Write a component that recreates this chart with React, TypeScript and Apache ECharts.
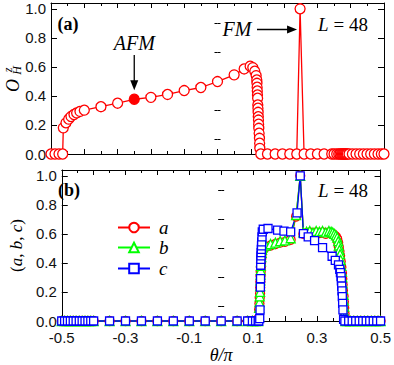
import React, { useEffect, useRef } from 'react';
import * as echarts from 'echarts';

// ---------- Data ----------
// Panel (a): O_H^z vs theta/pi
const thetaA = [
  -0.5, -0.488, -0.476, -0.465, -0.463, -0.455, -0.447, -0.44, -0.431, -0.423, -0.413, -0.4,
  -0.35, -0.3, -0.25, -0.2, -0.15, -0.1, -0.05, 0.0, 0.05, 0.08, 0.098, 0.106, 0.112, 0.116,
  0.118, 0.1185, 0.119, 0.1195, 0.12, 0.1205, 0.121, 0.1215, 0.122, 0.1225, 0.123, 0.1235, 0.124,
  0.125, 0.126, 0.1265, 0.127, 0.13, 0.15, 0.173, 0.195, 0.217, 0.238, 0.248, 0.26, 0.28, 0.3,
  0.32, 0.343, 0.35, 0.358, 0.364, 0.368, 0.372, 0.375, 0.378, 0.381, 0.384, 0.387, 0.39, 0.395,
  0.405, 0.416, 0.427, 0.438, 0.449, 0.46, 0.471, 0.482, 0.492, 0.5,
];
const oHz = [
  0, 0, 0, 0, 0.18, 0.215, 0.24, 0.258, 0.272, 0.283, 0.293, 0.302,
  0.326, 0.35, 0.377, 0.39, 0.41, 0.437, 0.458, 0.499, 0.545, 0.586, 0.605, 0.595, 0.57, 0.54,
  0.51, 0.487, 0.46, 0.434, 0.407, 0.384, 0.338, 0.315, 0.287, 0.257, 0.234, 0.205, 0.177,
  0.143, 0.108, 0.074, 0.039, 0, 0, 0, 0, 0, 0, 1.0, 0, 0, 0,
  0, 0, 0, 0, 0, 0, 0, 0, 0, 0, 0, 0, 0, 0,
  0, 0, 0, 0, 0, 0, 0, 0, 0, 0,
];
const afmTheta = -0.25;
const fmTheta = 0.248;

// Panel (b): a, b, c vs theta/pi
const thetaAB = [
  -0.5, -0.491, -0.482, -0.473, -0.464, -0.455, -0.445, -0.436, -0.427, -0.418, -0.409, -0.4,
  -0.35, -0.3, -0.25, -0.2, -0.15, -0.1, -0.05, 0, 0.05, 0.083, 0.098, 0.108, 0.116,
  0.118, 0.119, 0.12, 0.121, 0.122, 0.1225, 0.123, 0.1235, 0.124, 0.1245, 0.125, 0.126, 0.127, 0.128, 0.13,
  0.14, 0.155, 0.17, 0.185, 0.2, 0.218, 0.235, 0.248, 0.258,
  0.268, 0.278, 0.288, 0.298, 0.308, 0.318, 0.328, 0.338, 0.345, 0.35, 0.355, 0.36, 0.364, 0.367,
  0.369, 0.371, 0.373, 0.375, 0.377, 0.379, 0.38, 0.381, 0.382, 0.384, 0.385, 0.386, 0.387, 0.388, 0.39,
  0.395, 0.405, 0.416, 0.427, 0.438, 0.449, 0.46, 0.471, 0.482, 0.492, 0.5,
];
const aVals = [
  0, 0, 0, 0, 0, 0, 0, 0, 0, 0, 0, 0,
  0, 0, 0, 0, 0, 0, 0, 0, 0, 0, 0, 0, 0,
  0.02, 0.08, 0.12, 0.16, 0.19, 0.23, 0.27, 0.31, 0.34, 0.37, 0.4, 0.43, 0.46, 0.48, 0.495,
  0.51, 0.52, 0.53, 0.54, 0.545, 0.56, 0.72, 1.0, 0.6,
  0.605, 0.61, 0.6, 0.61, 0.605, 0.61, 0.6, 0.61, 0.605, 0.6, 0.59, 0.58, 0.565, 0.54,
  0.51, 0.48, 0.45, 0.41, 0.37, 0.33, 0.29, 0.25, 0.21, 0.17, 0.13, 0.09, 0.05, 0.02, 0,
  0, 0, 0, 0, 0, 0, 0, 0, 0, 0, 0,
];
const bVals = [
  0, 0, 0, 0, 0, 0, 0, 0, 0, 0, 0, 0,
  0, 0, 0, 0, 0, 0, 0, 0, 0, 0, 0, 0, 0,
  0.03, 0.09, 0.13, 0.17, 0.2, 0.24, 0.28, 0.32, 0.35, 0.38, 0.41, 0.44, 0.47, 0.49, 0.505,
  0.52, 0.53, 0.54, 0.55, 0.555, 0.57, 0.73, 1.0, 0.61,
  0.615, 0.62, 0.61, 0.62, 0.615, 0.62, 0.61, 0.62, 0.615, 0.61, 0.6, 0.59, 0.575, 0.55,
  0.52, 0.49, 0.46, 0.42, 0.38, 0.34, 0.3, 0.26, 0.22, 0.18, 0.14, 0.1, 0.06, 0.03, 0,
  0, 0, 0, 0, 0, 0, 0, 0, 0, 0, 0,
];
const thetaC = [
  -0.5, -0.491, -0.482, -0.473, -0.464, -0.455, -0.445, -0.436, -0.427, -0.418, -0.409, -0.4,
  -0.35, -0.3, -0.25, -0.2, -0.15, -0.1, -0.05, 0, 0.05, 0.083, 0.098, 0.108, 0.116, 0.118,
  0.121, 0.122, 0.123, 0.1235, 0.124, 0.1245, 0.125, 0.1255, 0.126, 0.1265, 0.127, 0.128, 0.129,
  0.132, 0.147, 0.177, 0.197, 0.218, 0.238, 0.248, 0.258, 0.273, 0.293, 0.318, 0.348, 0.358, 0.368,
  0.372, 0.374, 0.376, 0.377, 0.378, 0.379, 0.38, 0.381, 0.382, 0.384,
  0.388, 0.4, 0.411, 0.422, 0.433, 0.444, 0.455, 0.466, 0.477, 0.488, 0.5,
];
const cVals = [
  0, 0, 0, 0, 0, 0, 0, 0, 0, 0, 0, 0,
  0, 0, 0, 0, 0, 0, 0, 0, 0, 0, 0, 0, 0, 0,
  0.016, 0.076, 0.234, 0.292, 0.384, 0.425, 0.448, 0.471, 0.494, 0.517, 0.545, 0.579, 0.614,
  0.632, 0.637, 0.626, 0.619, 0.614, 0.745, 1.0, 0.602, 0.58, 0.554, 0.506, 0.446, 0.417, 0.386,
  0.356, 0.333, 0.306, 0.276, 0.241, 0.207, 0.168, 0.122, 0.076, 0.012,
  0, 0, 0, 0, 0, 0, 0, 0, 0, 0, 0,
];

// Tick values
const yTickValues = [0, 0.2, 0.4, 0.6, 0.8, 1.0];
const yMinorValues = [0.1, 0.3, 0.5, 0.7, 0.9];
const xLabelValues = [-0.5, -0.3, -0.1, 0.1, 0.3, 0.5];
const legendNames = ['a', 'b', 'c'];

const SANS = 'Liberation Sans';
const SERIF = 'Liberation Serif';
const BLACK = '#000';

function zip(xs: number[], ys: number[]) {
  return xs.map((x, i) => [x, ys[i]]);
}

function txt(x: number, y: number, text: string, size: number, extra: any = {}) {
  return {
    type: 'text',
    x,
    y,
    style: {
      text,
      fontFamily: SERIF,
      fontSize: size,
      fill: BLACK,
      align: 'center',
      verticalAlign: 'middle',
      ...extra,
    },
  };
}

function xAxesFor(gridIndex: number, withLabels: boolean) {
  const common: any = {
    type: 'value',
    gridIndex,
    min: -0.5,
    max: 0.5,
    interval: 0.1,
    axisLine: { show: true, onZero: false, lineStyle: { color: BLACK, width: 1 } },
    axisTick: { show: true, inside: true, length: 5, lineStyle: { color: BLACK, width: 1 } },
    minorTick: { show: true, splitNumber: 2, length: 3, lineStyle: { color: BLACK, width: 1 } },
    splitLine: { show: false },
    minorSplitLine: { show: false },
  };
  const bottom: any = {
    ...common,
    position: 'bottom',
    axisLabel: withLabels
      ? {
          show: true,
          customValues: xLabelValues,
          formatter: (v: number) => v.toFixed(1),
          fontFamily: SANS,
          fontSize: 15,
          color: '#111',
          margin: 9,
        }
      : { show: false },
  };
  if (withLabels) {
    bottom.name = 'θ/π';
    bottom.nameLocation = 'middle';
    bottom.nameGap = 24;
    bottom.nameTextStyle = { fontFamily: SERIF, fontStyle: 'italic', fontSize: 18, color: BLACK };
  }
  const top: any = { ...common, position: 'top', axisLabel: { show: false } };
  return [bottom, top];
}

function yAxesFor(gridIndex: number, name?: string) {
  const base: any = {
    type: 'value',
    gridIndex,
    min: 0,
    max: 1.04,
    interval: 0.2,
    splitLine: { show: false },
  };
  const line = { show: true, onZero: false, lineStyle: { color: BLACK, width: 1 } };
  const left: any = {
    ...base,
    position: 'left',
    axisLine: line,
    axisTick: { show: true, inside: true, length: 6, customValues: yTickValues, lineStyle: { color: BLACK, width: 1 } },
    axisLabel: {
      show: true,
      customValues: yTickValues,
      formatter: (v: number) => v.toFixed(1),
      fontFamily: SANS,
      fontSize: 15,
      color: '#111',
      margin: 5,
    },
  };
  if (name) {
    left.name = name;
    left.nameLocation = 'middle';
    left.nameRotate = 90;
    left.nameGap = 31;
    left.nameTextStyle = {
      fontFamily: SERIF,
      fontSize: 17,
      color: BLACK,
      rich: {
        n: { fontFamily: SERIF, fontSize: 17, color: BLACK },
        i: { fontFamily: SERIF, fontSize: 17, fontStyle: 'italic', color: BLACK },
      },
    };
  }
  const leftMinor: any = {
    ...base,
    position: 'left',
    axisLine: { show: false },
    axisTick: { show: true, inside: true, length: 3, customValues: yMinorValues, lineStyle: { color: BLACK, width: 1 } },
    axisLabel: { show: false },
  };
  const right: any = {
    ...base,
    position: 'right',
    axisLine: line,
    axisTick: { show: true, inside: true, length: 6, customValues: yTickValues, lineStyle: { color: BLACK, width: 1 } },
    axisLabel: { show: false },
  };
  const rightMinor: any = { ...leftMinor, position: 'right' };
  return [left, leftMinor, right, rightMinor];
}

function lineSeries(name: string, data: any[], color: string, symbol: string, size: number, xi: number, yi: number) {
  return {
    name,
    type: 'line',
    xAxisIndex: xi,
    yAxisIndex: yi,
    data,
    symbol,
    symbolSize: size,
    showAllSymbol: true,
    clip: false,
    silent: true,
    lineStyle: { color, width: 1.3 },
    itemStyle: { color: '#fff', borderColor: color, borderWidth: 1.3 },
    emphasis: { disabled: true },
  };
}

export default function App() {
  const ref = useRef<HTMLDivElement>(null);
  useEffect(() => {
    const chart = echarts.init(ref.current!, null, { renderer: 'svg' });
    const dataA: any[] = zip(thetaA, oHz).map((p) =>
      p[0] === afmTheta ? { value: p, itemStyle: { color: '#f00' } } : p
    );
    const legendTops = [218, 238, 259];
    const option: any = {
      animation: false,
      backgroundColor: '#fff',
      grid: [
        { left: 51, width: 333, top: 3, height: 151 },
        { left: 51, width: 333, top: 170, height: 151 },
      ],
      xAxis: [...xAxesFor(0, false), ...xAxesFor(1, true)],
      yAxis: [...yAxesFor(0), ...yAxesFor(1, '{n|(}{i|a}{n|, }{i|b}{n|, }{i|c}{n|)}')],
      legend: legendNames.map((n, i) => ({
        data: [n],
        orient: 'vertical',
        left: 117,
        top: legendTops[i],
        padding: 0,
        itemWidth: 32,
        itemHeight: 12,
        selectedMode: false,
        textStyle: {
          fontFamily: SERIF,
          fontStyle: 'italic',
          fontSize: 19,
          lineHeight: 12,
          color: BLACK,
          padding: [0, 0, 0, 4],
        },
      })),
      series: [
        lineSeries('O', dataA, '#f00', 'circle', 10, 0, 0),
        lineSeries('a', zip(thetaAB, aVals), '#f00', 'circle', 9, 2, 4),
        lineSeries('b', zip(thetaAB, bVals), '#00ff00', 'triangle', 9, 2, 4),
        lineSeries('c', zip(thetaC, cVals), '#0000ff', 'rect', 8, 2, 4),
      ],
    };
    chart.setOption(option);

    const afmVal = oHz[thetaA.indexOf(afmTheta)];
    const fmVal = oHz[thetaA.indexOf(fmTheta)];
    const pA = chart.convertToPixel({ seriesIndex: 0 }, [afmTheta, afmVal]) as number[];
    const pF = chart.convertToPixel({ seriesIndex: 0 }, [fmTheta, fmVal]) as number[];
    const ax = pA[0];
    const tipY = pA[1] - 9;
    const fy = 29.5;
    const tipX = pF[0] - 3;
    const lRich = { i: { fontStyle: 'italic', fontFamily: SERIF, fontSize: 19 }, n: { fontFamily: SERIF, fontSize: 19 } };

    chart.setOption({
      graphic: [
        // panel labels
        txt(68, 24, '(a)', 18, { fontWeight: 'bold' }),
        txt(69, 190, '(b)', 18, { fontWeight: 'bold' }),
        // L = 48
        txt(343, 24, '{i|L}{n| = 48}', 19, { rich: lRich }),
        txt(343, 190, '{i|L}{n| = 48}', 19, { rich: lRich }),
        // O_H^z y-axis title (rotated)
        {
          type: 'group', x: 13, y: 79, rotation: Math.PI / 2,
          children: [
            txt(-6.5, 0, 'O', 18, { fontStyle: 'italic' }),
            txt(8.5, 4, 'H', 12, { fontStyle: 'italic' }),
            txt(9, -5, 'z', 12, { fontStyle: 'italic' }),
          ],
        },
        // AFM annotation
        txt(ax, 43, 'AFM', 20, { fontStyle: 'italic' }),
        { type: 'line', shape: { x1: ax, y1: 55, x2: ax, y2: tipY - 8 }, style: { stroke: BLACK, lineWidth: 1.3 } },
        { type: 'polygon', shape: { points: [[ax - 4, tipY - 10], [ax + 4, tipY - 10], [ax, tipY]] }, style: { fill: BLACK } },
        // FM annotation
        txt(237, 29, 'FM', 20, { fontStyle: 'italic' }),
        { type: 'line', shape: { x1: 257, y1: fy, x2: tipX - 8, y2: fy }, style: { stroke: BLACK, lineWidth: 1.3 } },
        { type: 'polygon', shape: { points: [[tipX - 10, fy - 4], [tipX - 10, fy + 4], [tipX, fy]] }, style: { fill: BLACK } },
      ],
    });

    return () => chart.dispose();
  }, []);
  return <div ref={ref} style={{ position: 'fixed', left: 0, top: 0, width: 394, height: 365 }} />;
}
